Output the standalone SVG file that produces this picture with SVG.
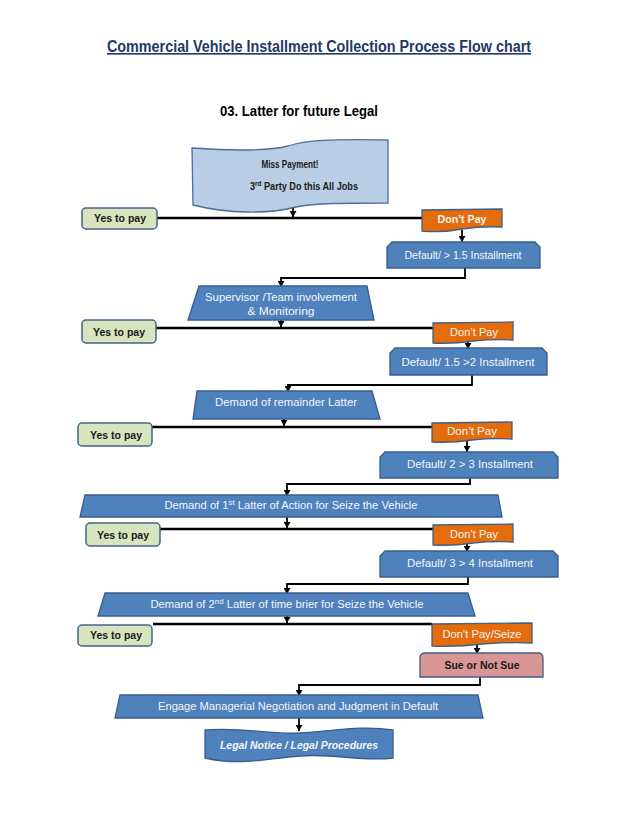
<svg xmlns="http://www.w3.org/2000/svg" width="638" height="826" viewBox="0 0 638 826">
<defs>
<marker id="ah" markerUnits="userSpaceOnUse" markerWidth="7" markerHeight="7" refX="6" refY="3.5" orient="auto">
<path d="M0,0 L6,3.5 L0,7 z" fill="#000"/>
</marker>
<style>
.blue{fill:#4f81bd;stroke:#385d8a;stroke-width:1.3}
.yes{fill:#d7e4bd;stroke:#43638c;stroke-width:1.5}
.dp{fill:#e46c0a;stroke:#3f5f8a;stroke-width:1.3}
.sue{fill:#d99694;stroke:#3f5f8a;stroke-width:1.3}
.wave{fill:#b9cde5;stroke:#4a6f9c;stroke-width:1.3}
.t{font-family:"Liberation Sans",Arial,sans-serif;text-anchor:middle}
.w{fill:#f4f6fa;font-size:10px}
.wb{fill:#f7f7f7;font-size:10px;font-weight:bold}
.k{fill:#1a1a1a;font-size:10px;font-weight:bold}
.ln{fill:none;stroke:#000;stroke-width:2.6}
.ar{fill:none;stroke:#000;stroke-width:1.8}
</style>
</defs>
<rect width="638" height="826" fill="#fff"/>
<text x="319" y="52" class="t" font-size="16" font-weight="bold" fill="#1f3864" text-decoration="underline" textLength="424" lengthAdjust="spacingAndGlyphs">Commercial  Vehicle Installment  Collection  Process  Flow chart</text>
<text x="299" y="116" class="t" font-size="14" font-weight="bold" fill="#000" textLength="158" lengthAdjust="spacingAndGlyphs">03. Latter for future Legal</text>

<g id="connectors">
<path class="ln" d="M157,218 H423"/>
<path class="ar" d="M293,205 V217" marker-end="url(#ah)"/>
<path class="ar" d="M462,230 V242" marker-end="url(#ah)"/>
<path class="ar" d="M465,268 V278 H281 V287" marker-end="url(#ah)"/>
<path class="ln" d="M156,328 H433"/>
<path class="ar" d="M281,320 V327" marker-end="url(#ah)"/>
<path class="ar" d="M468,342 V349" marker-end="url(#ah)"/>
<path class="ar" d="M472,375 V385 H288 V392" marker-end="url(#ah)"/>
<path class="ln" d="M152,427 H432"/>
<path class="ar" d="M284,419 V426" marker-end="url(#ah)"/>
<path class="ar" d="M467,441 V452" marker-end="url(#ah)"/>
<path class="ar" d="M470,478 V484 H287 V496" marker-end="url(#ah)"/>
<path class="ln" d="M160,529 H433"/>
<path class="ar" d="M287,517 V528" marker-end="url(#ah)"/>
<path class="ar" d="M467,544 V552" marker-end="url(#ah)"/>
<path class="ar" d="M468,577 V584 H287 V594" marker-end="url(#ah)"/>
<path class="ln" d="M153,624 H432"/>
<path class="ar" d="M287,616 V623" marker-end="url(#ah)"/>
<path class="ar" d="M477,645 V654" marker-end="url(#ah)"/>
<path class="ar" d="M480,677 V685 H299 V696" marker-end="url(#ah)"/>
<path class="ar" d="M299,718 V731" marker-end="url(#ah)"/>
</g>

<g id="miss-payment">
<path class="wave" d="M192,148 C235,151 268,151 288,146 C306,140 330,139 388,140 L388,203 C345,203 315,203 296,207 C270,214 228,214 193,205 Z"/>
<text x="290" y="168" class="t k" textLength="57" lengthAdjust="spacingAndGlyphs">Miss Payment!</text>
<text x="304" y="190" class="t k" textLength="108" lengthAdjust="spacingAndGlyphs">3<tspan font-size="7" dy="-4">rd</tspan><tspan dy="4"> Party Do this All Jobs</tspan></text>
</g>

<g id="yes1"><rect class="yes" x="82" y="208" width="75" height="21" rx="4"/><text x="120" y="222" class="t k" textLength="52" lengthAdjust="spacingAndGlyphs">Yes to pay</text></g>
<g id="dontpay1"><path class="dp" d="M422,210 L502,209 L502,227 Q482,226 462,229 Q442,233 422,231 Z"/><text x="462" y="223" class="t wb" textLength="49" lengthAdjust="spacingAndGlyphs">Don’t Pay</text></g>
<g id="default1"><path class="blue" d="M392,242 H535 L540,247 V268 H387 V247 Z"/><text x="463" y="259" class="t w" textLength="117" lengthAdjust="spacingAndGlyphs">Default/ &gt; 1.5 Installment</text></g>

<g id="supervisor"><path class="blue" d="M199,286 H367 L374,320 H188 Z"/>
<text x="281" y="301" class="t w" textLength="152" lengthAdjust="spacingAndGlyphs">Supervisor /Team involvement</text>
<text x="281" y="315" class="t w" textLength="67" lengthAdjust="spacingAndGlyphs">&amp; Monitoring</text></g>
<g id="yes2"><rect class="yes" x="82" y="320" width="74" height="23" rx="4"/><text x="119" y="336" class="t k" textLength="52" lengthAdjust="spacingAndGlyphs">Yes to pay</text></g>
<g id="dontpay2"><path class="dp" d="M433,323 L513,322 L513,340 Q493,339 473,341 Q453,344 433,343 Z"/><text x="474" y="336" class="t w" textLength="48" lengthAdjust="spacingAndGlyphs">Don’t Pay</text></g>
<g id="default2"><path class="blue" d="M395,348 H542 L547,353 V375 H390 V353 Z"/><text x="468" y="366" class="t w" textLength="133" lengthAdjust="spacingAndGlyphs">Default/ 1.5 &gt;2 Installment</text></g>

<g id="demand-remainder"><path class="blue" d="M197,391 H372 L380,419 H193 Z"/><text x="286" y="406" class="t w" textLength="142" lengthAdjust="spacingAndGlyphs">Demand of remainder Latter</text></g>
<g id="yes3"><rect class="yes" x="78" y="423" width="74" height="23" rx="4"/><text x="116" y="439" class="t k" textLength="52" lengthAdjust="spacingAndGlyphs">Yes to pay</text></g>
<g id="dontpay3"><path class="dp" d="M432,423 L512,422 L512,439 Q492,438 472,440 Q452,443 432,442 Z"/><text x="472" y="435" class="t w" textLength="50" lengthAdjust="spacingAndGlyphs">Don’t Pay</text></g>
<g id="default3"><path class="blue" d="M385,452 H553 L558,457 V478 H380 V457 Z"/><text x="470" y="468" class="t w" textLength="126" lengthAdjust="spacingAndGlyphs">Default/ 2 &gt; 3 Installment</text></g>

<g id="demand-1st"><path class="blue" d="M85,495 H498 L502,517 H80 Z"/><text x="291" y="509" class="t w" textLength="253" lengthAdjust="spacingAndGlyphs">Demand of 1<tspan font-size="7" dy="-4">st</tspan><tspan dy="4"> Latter of Action for Seize the Vehicle</tspan></text></g>
<g id="yes4"><rect class="yes" x="86" y="523" width="74" height="23" rx="4"/><text x="123" y="539" class="t k" textLength="52" lengthAdjust="spacingAndGlyphs">Yes to pay</text></g>
<g id="dontpay4"><path class="dp" d="M433,525 L513,524 L513,542 Q493,541 473,543 Q453,546 433,545 Z"/><text x="474" y="538" class="t w" textLength="48" lengthAdjust="spacingAndGlyphs">Don’t Pay</text></g>
<g id="default4"><path class="blue" d="M385,551 H553 L558,556 V577 H380 V556 Z"/><text x="470" y="567" class="t w" textLength="126" lengthAdjust="spacingAndGlyphs">Default/ 3 &gt; 4 Installment</text></g>

<g id="demand-2nd"><path class="blue" d="M105,593 H468 L475,616 H98 Z"/><text x="287" y="608" class="t w" textLength="273" lengthAdjust="spacingAndGlyphs">Demand of 2<tspan font-size="7" dy="-4">nd</tspan><tspan dy="4"> Latter of time brier for Seize the Vehicle</tspan></text></g>
<g id="yes5"><rect class="yes" x="78" y="625" width="74" height="21" rx="4"/><text x="116" y="639" class="t k" textLength="52" lengthAdjust="spacingAndGlyphs">Yes to pay</text></g>
<g id="dontpay-seize"><path class="dp" d="M432,624 L532,623 L532,643 Q507,642 482,644 Q457,647 432,646 Z"/><text x="482" y="638" class="t w" textLength="79" lengthAdjust="spacingAndGlyphs">Don’t Pay/Seize</text></g>
<g id="sue"><path class="sue" d="M425,653 H538 Q543,653 543,658 V677 H420 V658 Q420,653 425,653 Z"/><text x="482" y="669" class="t k" textLength="75" lengthAdjust="spacingAndGlyphs">Sue or Not Sue</text></g>

<g id="engage"><path class="blue" d="M120,695 H478 L483,718 H115 Z"/><text x="298" y="710" class="t w" textLength="280" lengthAdjust="spacingAndGlyphs">Engage Managerial Negotiation and Judgment in Default</text></g>
<g id="legal"><path class="blue" d="M205,730 C245,727 270,735 300,733 C335,731 360,725 393,730 L393,758 C360,762 335,753 300,756 C262,759 240,766 205,758 Z"/><text x="299" y="749" class="t wb" font-style="italic" textLength="158" lengthAdjust="spacingAndGlyphs">Legal Notice / Legal Procedures</text></g>
</svg>
